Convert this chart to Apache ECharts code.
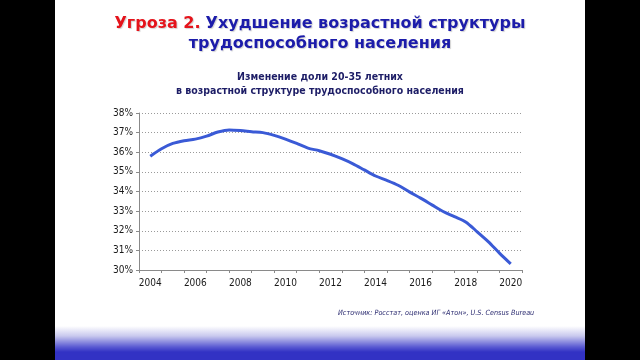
<!DOCTYPE html>
<html>
<head>
<meta charset="utf-8">
<script src="https://cdn.jsdelivr.net/npm/echarts@6/dist/echarts.min.js"></script>
<style>
html,body{margin:0;padding:0;background:#000;width:640px;height:360px;overflow:hidden;}
#slide{position:absolute;left:55px;top:0;width:530px;height:360px;
background:linear-gradient(to bottom,#ffffff 0px,#ffffff 326px,#c8c8ee 336px,#5a5ad2 347px,#3232c4 352px,#3232c4 360px);}
#chart{position:absolute;left:0;top:0;width:640px;height:360px;}
</style>
</head>
<body>
<div id="slide"></div>
<div id="chart"></div>
<script>
// Categories shown on the axis
const categories = ['2004','2005','2006','2007','2008','2009','2010','2011','2012','2013','2014','2015','2016','2017','2018','2019','2020'];
// Half-year sample points
const sampleYears = [2004,2004.5,2005,2005.5,2006,2006.5,2007,2007.5,2008,2008.5,2009,2009.5,2010,2010.5,2011,2011.5,2012,2012.5,2013,2013.5,2014,2014.5,2015,2015.5,2016,2016.5,2017,2017.5,2018,2018.5,2019,2019.5,2020];
const shareValues = [35.80,36.18,36.45,36.59,36.67,36.82,37.03,37.14,37.11,37.05,37.00,36.86,36.67,36.45,36.21,36.08,35.90,35.67,35.41,35.10,34.79,34.57,34.32,33.98,33.66,33.32,32.98,32.72,32.45,31.96,31.45,30.86,30.31];
const yTicks = {min:30, max:38, step:1};

const lineData = sampleYears.map((y,i)=>[y, shareValues[i]]);
const chart = echarts.init(document.getElementById('chart'), null, {renderer:'canvas'});
const labelFont = "'DejaVu Sans Condensed','DejaVu Sans',sans-serif";
const shadow = {textShadowColor:'rgba(0,0,0,0.18)',textShadowBlur:1,textShadowOffsetX:1,textShadowOffsetY:1};
chart.setOption({
  backgroundColor:'transparent',
  animation:false,
  title:[
    {
      text:'{r|Угроза 2.} {b|Ухудшение возрастной структуры}\n{b|трудоспособного населения}',
      left:'center', top:9,
      textStyle:{
        rich:{
          r:Object.assign({color:'#e5131b',fontSize:16,fontWeight:'bold',fontFamily:"'DejaVu Sans',sans-serif",lineHeight:20},shadow),
          b:Object.assign({color:'#1c1caa',fontSize:16,fontWeight:'bold',fontFamily:"'DejaVu Sans',sans-serif",lineHeight:20},shadow)
        }
      }
    },
    {
      text:'Изменение доли 20-35 летних\nв возрастной структуре трудоспособного населения',
      left:'center', top:65,
      textStyle:{color:'#1d1d66',fontSize:10.5,fontWeight:'bold',fontFamily:labelFont,lineHeight:14}
    },
    {
      text:'Источник: Росстат, оценка ИГ «Атон», U.S. Census Bureau',
      left:333, top:305,
      textStyle:{color:'#2b2b70',fontSize:7.2,fontStyle:'italic',fontWeight:'normal',fontFamily:labelFont}
    }
  ],
  grid:{left:139, right:118, top:113, bottom:90, containLabel:false},
  xAxis:[
    {
      type:'category', data:categories, boundaryGap:true,
      axisLine:{lineStyle:{color:'#8a8a8a',width:1}},
      axisTick:{show:true, interval:0, length:3, lineStyle:{color:'#8a8a8a'}},
      axisLabel:{interval:1, color:'#1a1a1a', fontSize:10, fontFamily:labelFont, margin:8},
      splitLine:{show:false}
    },
    {
      type:'value', min:2003.5, max:2020.5, show:false
    }
  ],
  yAxis:{
    type:'value', min:yTicks.min, max:yTicks.max, interval:yTicks.step,
    axisLine:{show:true, lineStyle:{color:'#8a8a8a'}},
    axisTick:{show:true, length:3, lineStyle:{color:'#8a8a8a'}},
    axisLabel:{formatter:'{value}%', color:'#1a1a1a', fontSize:10, fontFamily:labelFont, margin:6},
    splitLine:{show:true, lineStyle:{color:'#9a9a9a', type:[1,2], width:1}}
  },
  series:[{
    type:'line', xAxisIndex:1, data:lineData, smooth:0.3, symbol:'none',
    lineStyle:{color:'#3a5ad6', width:3},
    z:3
  }]
});
</script>
</body>
</html>
